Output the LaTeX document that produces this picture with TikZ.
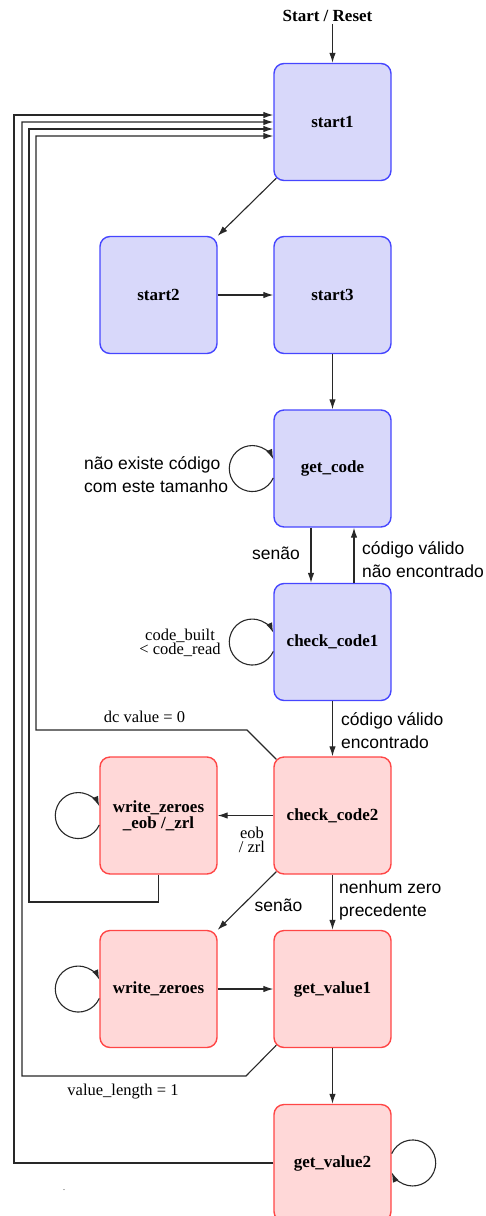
\documentclass[tikz,border=0pt]{standalone}
\usepackage{fontspec}
\setmainfont{Liberation Serif}
\newfontfamily\sansf{Liberation Sans}
\usetikzlibrary{arrows.meta,calc}
\definecolor{stBlue}{RGB}{70,70,255}
\definecolor{stBlueFill}{RGB}{216,216,250}
\definecolor{stRed}{RGB}{255,70,70}
\definecolor{stRedFill}{RGB}{255,216,216}
\definecolor{wire}{RGB}{40,40,40}

\begin{document}
\begin{tikzpicture}[x=1pt,y=1pt,
  state/.style={draw, line width=1.4pt, rounded corners=10pt,
    minimum width=117pt, minimum height=117pt, inner sep=0pt,
    font=\fontsize{17}{16}\selectfont\bfseries, align=center},
  init/.style={state, draw=stBlue, fill=stBlueFill},
  run/.style={state, draw=stRed, fill=stRedFill},
  arr/.style={draw=wire, line width=1.1pt, -{Latex[length=10pt,width=6.5pt]}},
  lab/.style={font=\sansf\fontsize{17.5}{23}\selectfont, inner sep=0pt, align=left},
  note/.style={font=\fontsize{16.5}{14.5}\selectfont, inner sep=0pt, align=center},
]
\useasboundingbox (0,0) rectangle (485,-1216);

% states
\node[init] (s1)  at (332.5,-122)   {start1};
\node[init] (s2)  at (158.5,-295)   {start2};
\node[init] (s3)  at (332.5,-295)   {start3};
\node[init] (gc)  at (332.5,-468.5) {get\_code};
\node[init] (cc1) at (332.5,-642)   {check\_code1};
\node[run]  (cc2) at (332.5,-815.5) {check\_code2};
\node[run]  (wze) at (158.5,-815.5) {write\_zeroes\\\_eob /\_zrl};
\node[run]  (wz)  at (158.5,-989)   {write\_zeroes};
\node[run]  (gv1) at (332.5,-989)   {get\_value1};
\node[run]  (gv2) at (332.5,-1163)  {get\_value2};

% reset entry
\node[font=\fontsize{17}{17}\selectfont\bfseries, inner sep=2pt] (reset) at (327.5,-16) {Start / Reset};
\draw[arr] (reset.south -| s1.north) -- (s1.north);

% forward transitions
\draw[arr] ($(s1.south west)+(3,3)$) -- (s2.north east);
\draw[arr] (s2.east) -- (s3.west);
\draw[arr] (s3.south) -- (gc.north);
\draw[arr] ($(gc.south)+(-21.5,0)$) -- ($(cc1.north)+(-21.5,0)$);
\draw[arr] ($(cc1.north)+(21.5,0)$) -- ($(gc.south)+(21.5,0)$);
\draw[arr] (cc1.south) -- (cc2.north);
\draw[arr] (cc2.west) -- (wze.east);
\draw[arr] ($(cc2.south west)+(3,3)$) -- (wz.north east);
\draw[arr] (cc2.south) -- (gv1.north);
\draw[arr] (wz.east) -- (gv1.west);
\draw[arr] (gv1.south) -- (gv2.north);

% self loops
\draw[arr] ($(gc.west)+(0,-9.4)$)  arc[start angle=-24, end angle=-336, radius=23];
\draw[arr] ($(cc1.west)+(0,-9.4)$) arc[start angle=-24, end angle=-336, radius=23];
\draw[arr] ($(wze.west)+(0,-9.4)$) arc[start angle=-24, end angle=-336, radius=23];
\draw[arr] ($(wz.west)+(0,-9.4)$)  arc[start angle=-24, end angle=-336, radius=23];
\draw[arr] ($(gv2.east)+(0,9.4)$)  arc[start angle=156, end angle=-156, radius=23];

% return paths to start1
\draw[arr] (gv2.west) -- (14,-1163) |- ($(s1.west)+(0,7)$);
\draw[arr] ($(gv1.south west)+(3,3)$) -- (246,-1076) -- (22,-1076) |- (s1.west);
\draw[arr] (wze.south) -- (158.5,-902) -- (29,-902) |- ($(s1.west)+(0,-7)$);
\draw[arr] ($(cc2.north west)+(3,-3)$) -- (247,-730) -- (36,-730) |- ($(s1.west)+(0,-14)$);

% transition labels
\node[lab, anchor=west] (l1) at (84,-474.5) {não existe código\\com este tamanho};
\node[lab] (l2) at (276,-553) {senão};
\node[lab, anchor=west] (l3) at (362,-559.5) {código válido\\não encontrado};
\node[note] (l4) at (180,-643) {code\_built\\< code\_read};
\node[lab, anchor=west] (l5) at (341,-730.5) {código válido\\encontrado};
\node[note] (l6) at (144.5,-716.5) {dc value = 0};
\node[note] (l7) at (252,-840) {eob\\/ zrl};
\node[lab, anchor=west] (l8) at (339,-900) {nenhum zero\\precedente};
\node[lab] (l9) at (278.5,-905) {senão};
\node[note] (l10) at (123,-1092) {value\_length = 1};
\node[note, font=\fontsize{8}{8}\selectfont] (dot) at (64,-1190) {.};
\end{tikzpicture}
\end{document}
